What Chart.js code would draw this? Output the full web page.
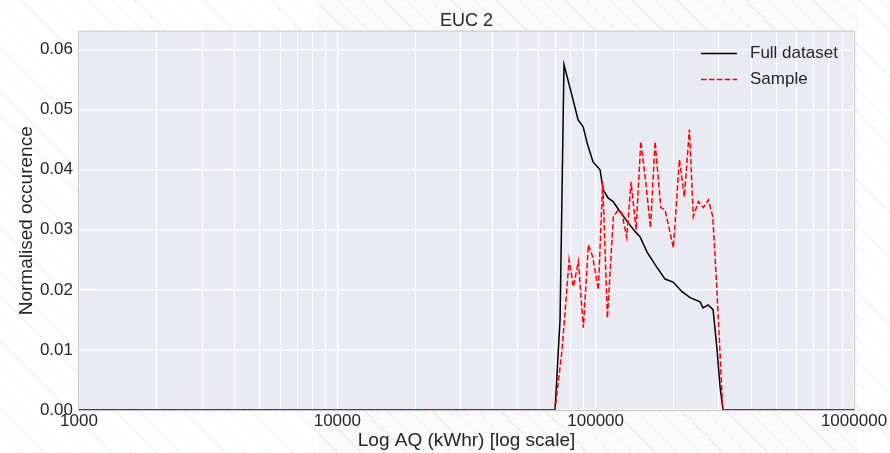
<!DOCTYPE html>
<html>
<head>
<meta charset="utf-8">
<script src="https://cdn.jsdelivr.net/npm/chart.js@4.4.1/dist/chart.umd.min.js"></script>
<style>
  html, body { margin: 0; padding: 0; }
  body {
    width: 890px; height: 453px; overflow: hidden;
    background: #ffffff repeating-linear-gradient(45deg, rgba(255,255,255,0) 0px, rgba(255,255,255,0) 15px, rgba(150,215,215,0.22) 15px, rgba(150,215,215,0.22) 16px);
  }
  #panel { position: absolute; left: 318px; top: 0; width: 540px; height: 453px; background: rgba(0,0,0,0.02); }
  #wrap { position: absolute; left: 0; top: 0; width: 890px; height: 453px; }
</style>
</head>
<body>
<div id="panel"></div>
<div id="wrap"><canvas id="chart"></canvas></div>
<script>
/* ── DATA ── */
var fullX = [1000, 69600, 72800, 75400, 81700, 85500, 89400, 92600, 97700, 104000, 106800, 111700, 116800, 124300, 133500, 142100, 148600, 158100, 172900, 185600, 199400, 216000, 232000, 253600, 260500, 272300, 284800, 295100, 303100, 311300, 1000000];
var fullY = [0, 0, 0.015, 0.0575, 0.0517, 0.0483, 0.0472, 0.0445, 0.0413, 0.0400, 0.0367, 0.0353, 0.0347, 0.0330, 0.0312, 0.0297, 0.0288, 0.0263, 0.0237, 0.0218, 0.0213, 0.0197, 0.0187, 0.0180, 0.0170, 0.0175, 0.0167, 0.0100, 0.0038, 0, 0];

var sampleX = [1000, 69600, 73900, 76100, 78900, 82000, 85700, 89600, 93700, 97400, 102400, 106500, 111000, 117100, 122400, 126200, 131900, 137100, 143400, 149500, 155700, 163100, 169800, 178700, 185600, 199900, 210900, 220500, 230500, 238900, 249800, 261200, 273100, 284000, 294300, 310500, 1000000];
var sampleY = [0, 0, 0.0095, 0.0162, 0.0250, 0.0205, 0.0247, 0.0137, 0.0275, 0.0255, 0.0200, 0.0380, 0.0153, 0.0322, 0.0333, 0.0328, 0.0287, 0.0380, 0.0300, 0.0447, 0.0385, 0.0303, 0.0447, 0.0337, 0.0333, 0.0270, 0.0417, 0.0355, 0.0467, 0.0322, 0.0347, 0.0337, 0.0350, 0.0322, 0.0205, 0, 0];

var xTicks = [1000, 2000, 3000, 4000, 5000, 6000, 7000, 8000, 9000,
              10000, 20000, 30000, 40000, 50000, 60000, 70000, 80000, 90000,
              100000, 200000, 300000, 400000, 500000, 600000, 700000, 800000, 900000,
              1000000];
var xLabelTicks = [1000, 10000, 100000, 1000000];
var yTicks = [0, 0.01, 0.02, 0.03, 0.04, 0.05, 0.06];

var FONT = 'Liberation Sans, Arial, sans-serif';

function toPoints(xs, ys) {
  var pts = [];
  for (var i = 0; i < xs.length; i++) pts.push({ x: xs[i], y: ys[i] });
  return pts;
}

/* ── PLOT BACKGROUND + FRAME ── */
var plotBg = {
  id: 'plotBg',
  beforeDraw: function(chart) {
    var a = chart.chartArea, ctx = chart.ctx;
    ctx.save();
    ctx.fillStyle = '#eaeaf2';
    ctx.fillRect(a.left, a.top, a.right - a.left, a.bottom - a.top);
    ctx.restore();
  },
  beforeDatasetsDraw: function(chart) {
    var a = chart.chartArea, ctx = chart.ctx;
    ctx.save();
    ctx.strokeStyle = '#c4c4c8';
    ctx.lineWidth = 1;
    ctx.strokeRect(a.left - 0.5, a.top - 0.5, a.right - a.left + 1, a.bottom - a.top + 1);
    ctx.restore();
  }
};

/* ── LEGEND INSIDE PLOT ── */
var innerLegend = {
  id: 'innerLegend',
  afterDraw: function(chart) {
    var a = chart.chartArea, ctx = chart.ctx;
    var ds = chart.data.datasets;
    ctx.save();
    ctx.font = '17px ' + FONT;
    ctx.textBaseline = 'middle';
    for (var i = 0; i < ds.length; i++) {
      var y = a.top + 22 + i * 26;
      var x0 = a.right - 153;
      ctx.beginPath();
      ctx.strokeStyle = ds[i].borderColor;
      ctx.lineWidth = ds[i].borderWidth;
      ctx.setLineDash(ds[i].borderDash || []);
      ctx.moveTo(x0, y);
      ctx.lineTo(x0 + 36, y);
      ctx.stroke();
      ctx.setLineDash([]);
      ctx.fillStyle = '#262626';
      ctx.fillText(ds[i].label, x0 + 49, y);
    }
    ctx.restore();
  }
};

new Chart(document.getElementById('chart'), {
  type: 'line',
  data: {
    datasets: [
      {
        label: 'Full dataset',
        data: toPoints(fullX, fullY),
        borderColor: '#000000',
        borderWidth: 1.5,
        pointRadius: 0,
        tension: 0,
        order: 1
      },
      {
        label: 'Sample',
        data: toPoints(sampleX, sampleY),
        borderColor: '#ff0000',
        borderWidth: 1.5,
        borderDash: [5.5, 2.4],
        pointRadius: 0,
        tension: 0,
        order: 0
      }
    ]
  },
  options: {
    responsive: true,
    maintainAspectRatio: false,
    animation: false,
    devicePixelRatio: 1,
    layout: { padding: { top: 0, right: 36, bottom: 0, left: 0 } },
    plugins: {
      legend: { display: false },
      tooltip: { enabled: false },
      title: {
        display: true,
        text: 'EUC 2',
        fullSize: false,
        color: '#262626',
        font: { family: FONT, size: 18, weight: 'normal' },
        padding: { top: 10, bottom: 0 }
      }
    },
    scales: {
      x: {
        type: 'logarithmic',
        min: 1000,
        max: 1000000,
        afterBuildTicks: function(scale) {
          scale.ticks = xTicks.map(function(v) { return { value: v }; });
        },
        afterFit: function(scale) { scale.height = 43; },
        grid: {
          color: '#ffffff',
          lineWidth: function(c) { return xLabelTicks.indexOf(c.tick && c.tick.value) >= 0 ? 1.4 : 1; },
          drawTicks: false
        },
        border: { display: false },
        ticks: {
          autoSkip: false,
          maxRotation: 0,
          padding: 1,
          color: '#262626',
          font: { family: FONT, size: 17 },
          callback: function(v) { return xLabelTicks.indexOf(v) >= 0 ? String(v) : ''; }
        },
        title: {
          display: true,
          text: 'Log AQ (kWhr) [log scale]',
          color: '#262626',
          font: { family: FONT, size: 19 },
          padding: { top: 0, bottom: 1 }
        }
      },
      y: {
        min: 0,
        max: 0.063,
        afterBuildTicks: function(scale) {
          scale.ticks = yTicks.map(function(v) { return { value: v }; });
        },
        afterFit: function(scale) { scale.width = 79; },
        grid: { color: '#ffffff', lineWidth: 1.5, drawTicks: false },
        border: { display: false },
        ticks: {
          padding: 6,
          color: '#262626',
          font: { family: FONT, size: 17 },
          callback: function(v) { return Number(v).toFixed(2); }
        },
        title: {
          display: true,
          text: 'Normalised occurence',
          color: '#262626',
          font: { family: FONT, size: 19 },
          padding: { top: 15, bottom: 0 }
        }
      }
    }
  },
  plugins: [plotBg, innerLegend]
});
</script>
</body>
</html>
